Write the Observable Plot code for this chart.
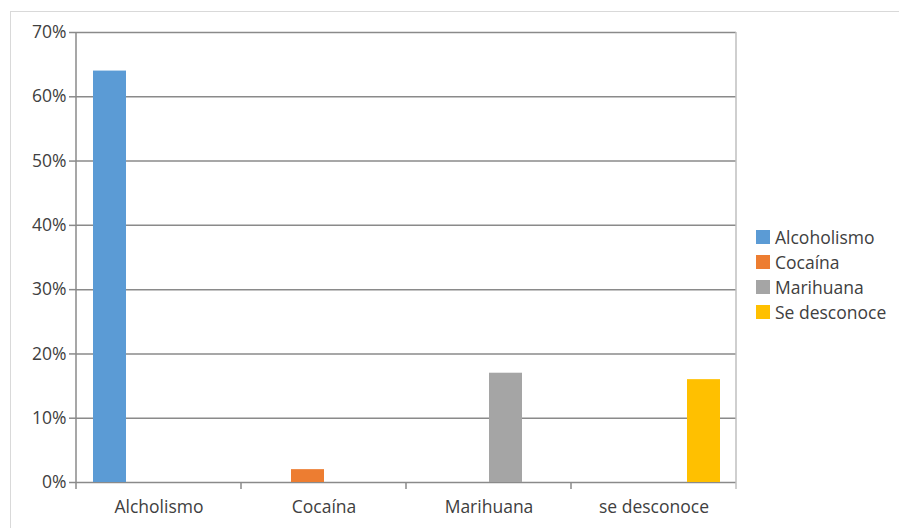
<!DOCTYPE html>
<html>
<head>
<meta charset="utf-8">
<script src="https://cdn.jsdelivr.net/npm/d3@7"></script>
<script src="https://cdn.jsdelivr.net/npm/@observablehq/plot@0.6"></script>
<style>
  html, body { margin: 0; padding: 0; background: #ffffff; }
  #wrap { position: relative; width: 899px; height: 528px; overflow: hidden; font-family: "Open Sans", sans-serif; }
  #wrap svg { position: absolute; left: 0; top: 0; }
  #border { position: absolute; left: 10px; top: 11px; width: 1000px; height: 1000px;
            border-top: 1px solid #d9d9d9; border-left: 1px solid #d9d9d9; pointer-events: none; }
  #legend { position: absolute; left: 756px; top: 224px; font-size: 17.5px; color: #404040; }
  #legend .row { display: flex; align-items: center; height: 25px; white-space: nowrap; }
  #legend .sw { width: 14px; height: 14px; margin-right: 5px; flex: none; }
</style>
</head>
<body>
<div id="wrap"><div id="border"></div><div id="legend"></div></div>
<script>
// Categories on the x axis
const categories = ["Alcholismo", "Cocaína", "Marihuana", "se desconoce"];
// Series (legend)
const series = ["Alcoholismo", "Cocaína", "Marihuana", "Se desconoce"];
const seriesColors = ["#5B9BD5", "#ED7D31", "#A5A5A5", "#FFC000"];
// Values per series, one entry per category
const alcoholismo = [0.64, 0, 0, 0];
const cocaina = [0, 0.02, 0, 0];
const marihuana = [0, 0, 0.17, 0];
const seDesconoce = [0, 0, 0, 0.16];
// Y ticks
const yTicks = [0, 0.1, 0.2, 0.3, 0.4, 0.5, 0.6, 0.7];
const yTickLabels = ["0%", "10%", "20%", "30%", "40%", "50%", "60%", "70%"];

const seriesValues = [alcoholismo, cocaina, marihuana, seDesconoce];
const table = [];
series.forEach((s, si) => categories.forEach((c, ci) => {
  const v = seriesValues[si][ci];
  if (v > 0) table.push({category: c, series: s, value: v});
}));

const textColor = "#404040";
const gridColor = "#8a8a8a";

const chart = Plot.plot({
  width: 899,
  height: 528,
  marginLeft: 76,
  marginRight: 163,
  marginTop: 32,
  marginBottom: 46,
  style: {fontFamily: "'Open Sans', sans-serif", fontSize: "17.5px", color: textColor, background: "transparent", overflow: "visible"},
  fx: {domain: categories, padding: 0, label: null},
  x: {domain: series, paddingInner: 0, paddingOuter: 0.5, axis: null},
  y: {domain: [0, 0.7], label: null, axis: null},
  color: {domain: series, range: seriesColors},
  marks: [
    Plot.ruleY(yTicks, {stroke: gridColor, strokeWidth: 1.5}),
    Plot.barY(table, {fx: "category", x: "series", y: "value", fill: "series"}),
    Plot.axisY({ticks: yTicks, tickFormat: (d) => yTickLabels[yTicks.indexOf(d)], tickSize: 7, tickPadding: 3,
                stroke: gridColor, fill: textColor, strokeWidth: 1.5, label: null}),
    Plot.axisFx({anchor: "bottom", tickSize: 0, tickPadding: 18, fill: textColor, label: null})
  ]
});

document.getElementById("wrap").insertBefore(chart, document.getElementById("border"));

// Axis lines, frame border and category boundary ticks from Plot's scales
const fx = chart.scale("fx");
const y = chart.scale("y");
const left = fx.apply(categories[0]);
const right = fx.apply(categories[categories.length - 1]) + fx.bandwidth;
const y0 = y.apply(0), yTop = y.apply(0.7);
const g = d3.select(chart).append("g");
// right border
g.append("line").attr("x1", right).attr("x2", right).attr("y1", yTop).attr("y2", y0 + 7)
  .attr("stroke", "#bfbfbf").attr("stroke-width", 1.5);
// left axis line
g.append("line").attr("x1", left).attr("x2", left).attr("y1", yTop).attr("y2", y0 + 7)
  .attr("stroke", gridColor).attr("stroke-width", 1.5);
// boundary ticks
categories.slice(1).forEach(c => {
  const xx = fx.apply(c);
  g.append("line").attr("x1", xx).attr("x2", xx).attr("y1", y0).attr("y2", y0 + 7)
    .attr("stroke", gridColor).attr("stroke-width", 1.5);
});

// Legend
const legend = d3.select("#legend");
series.forEach((s, i) => {
  const row = legend.append("div").attr("class", "row");
  row.append("div").attr("class", "sw").style("background", seriesColors[i]);
  row.append("span").text(s);
});
</script>
</body>
</html>
